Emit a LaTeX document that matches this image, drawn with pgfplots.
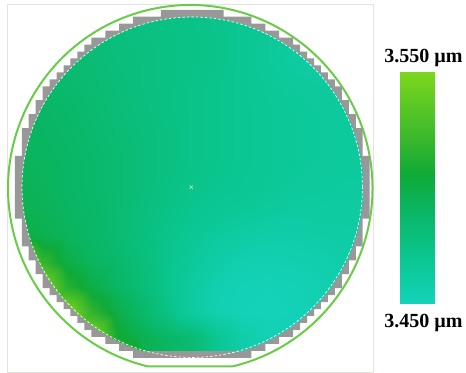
\documentclass[border=0pt]{standalone}
\usepackage{fontspec}
\setmainfont{Liberation Serif}
\usepackage{pgfplots}
\pgfplotsset{compat=1.18}
\definecolor{ring}{RGB}{104,204,72}
\definecolor{die}{RGB}{152,152,152}
\definecolor{framec}{RGB}{226,228,222}
\definecolor{cmark}{RGB}{215,235,170}
\begin{document}
\begin{tikzpicture}
\begin{axis}[width=466pt,height=376pt,scale only axis,xmin=0,xmax=466,ymin=0,ymax=376,hide axis,
 colormap={wafer}{rgb255(0cm)=(20,210,185); rgb255(2cm)=(10,198,145); rgb255(4cm)=(10,182,100); rgb255(5.6cm)=(15,170,55); rgb255(7cm)=(55,182,45); rgb255(10cm)=(125,215,30)},
 point meta min=3.45, point meta max=3.55]

\draw[framec, line width=0.8pt] (axis cs:7.5,4.5) rectangle (axis cs:373,371.5);

\draw[ring, line width=2pt] (axis cs:232.2,10) arc[start angle=-76.6, end angle=256.6, x radius=182pt, y radius=183pt] -- cycle;

% edge-exclusion dies (cell units of 6.95 pt around the wafer centre)
\addplot[fill=die, draw=none] table[row sep=\\, x expr=192+6.95*\thisrow{u}, y expr=189+6.95*\thisrow{v}] {
u v\\
-4.5 25.5\\ 4.5 25.5\\ 4.5 24.5\\ 8.5 24.5\\ 8.5 23.5\\ 10.5 23.5\\ 10.5 22.5\\ 12.5 22.5\\ 12.5 21.5\\ 14.5 21.5\\ 14.5 20.5\\ 15.5 20.5\\ 15.5 19.5\\ 16.5 19.5\\ 16.5 18.5\\ 17.5 18.5\\ 17.5 17.5\\ 18.5 17.5\\ 18.5 16.5\\ 19.5 16.5\\ 19.5 15.5\\ 20.5 15.5\\ 20.5 14.5\\ 21.5 14.5\\ 21.5 12.5\\ 22.5 12.5\\ 22.5 10.5\\ 23.5 10.5\\ 23.5 8.5\\ 24.5 8.5\\ 24.5 4.5\\ 25.5 4.5\\
25.5 -4.5\\ 24.5 -4.5\\ 24.5 -8.5\\ 23.5 -8.5\\ 23.5 -10.5\\ 22.5 -10.5\\ 22.5 -12.5\\ 21.5 -12.5\\ 21.5 -14.5\\ 20.5 -14.5\\ 20.5 -15.5\\ 19.5 -15.5\\ 19.5 -16.5\\ 18.5 -16.5\\ 18.5 -17.5\\ 17.5 -17.5\\ 17.5 -18.5\\ 16.5 -18.5\\ 16.5 -19.5\\ 15.5 -19.5\\ 15.5 -20.5\\ 14.5 -20.5\\ 14.5 -21.5\\ 12.5 -21.5\\ 12.5 -22.5\\ 10.5 -22.5\\ 10.5 -23.5\\ 8.5 -23.5\\ 8.5 -24.5\\
-8.5 -24.5\\ -8.5 -23.5\\ -10.5 -23.5\\ -10.5 -22.5\\ -12.5 -22.5\\ -12.5 -21.5\\ -14.5 -21.5\\ -14.5 -20.5\\ -15.5 -20.5\\ -15.5 -19.5\\ -16.5 -19.5\\ -16.5 -18.5\\ -17.5 -18.5\\ -17.5 -17.5\\ -18.5 -17.5\\ -18.5 -16.5\\ -19.5 -16.5\\ -19.5 -15.5\\ -20.5 -15.5\\ -20.5 -14.5\\ -21.5 -14.5\\ -21.5 -12.5\\ -22.5 -12.5\\ -22.5 -10.5\\ -23.5 -10.5\\ -23.5 -8.5\\ -24.5 -8.5\\ -24.5 -4.5\\ -25.5 -4.5\\
-25.5 4.5\\ -24.5 4.5\\ -24.5 8.5\\ -23.5 8.5\\ -23.5 10.5\\ -22.5 10.5\\ -22.5 12.5\\ -21.5 12.5\\ -21.5 14.5\\ -20.5 14.5\\ -20.5 15.5\\ -19.5 15.5\\ -19.5 16.5\\ -18.5 16.5\\ -18.5 17.5\\ -17.5 17.5\\ -17.5 18.5\\ -16.5 18.5\\ -16.5 19.5\\ -15.5 19.5\\ -15.5 20.5\\ -14.5 20.5\\ -14.5 21.5\\ -12.5 21.5\\ -12.5 22.5\\ -10.5 22.5\\ -10.5 23.5\\ -8.5 23.5\\ -8.5 24.5\\ -4.5 24.5\\ -4.5 25.5\\
};

% thickness map
\begin{scope}
\clip (axis cs:192,189) circle[radius=170.5pt];
\addplot[surf, shader=interp, mesh/cols=15, point meta=explicit] table[row sep=\\, x=x, y=y, meta=v] {
x y v\\
17 364 3.485\\ 42 364 3.484\\ 67 364 3.482\\ 92 364 3.480\\ 117 364 3.478\\ 142 364 3.476\\ 167 364 3.475\\ 192 364 3.474\\ 217 364 3.472\\ 242 364 3.470\\ 267 364 3.468\\ 292 364 3.465\\ 317 364 3.462\\ 342 364 3.460\\ 367 364 3.460\\
17 339 3.486\\ 42 339 3.485\\ 67 339 3.483\\ 92 339 3.481\\ 117 339 3.479\\ 142 339 3.477\\ 167 339 3.476\\ 192 339 3.475\\ 217 339 3.473\\ 242 339 3.470\\ 267 339 3.466\\ 292 339 3.463\\ 317 339 3.460\\ 342 339 3.458\\ 367 339 3.458\\
17 314 3.487\\ 42 314 3.486\\ 67 314 3.485\\ 92 314 3.483\\ 117 314 3.480\\ 142 314 3.478\\ 167 314 3.476\\ 192 314 3.475\\ 217 314 3.473\\ 242 314 3.470\\ 267 314 3.466\\ 292 314 3.462\\ 317 314 3.460\\ 342 314 3.458\\ 367 314 3.458\\
17 289 3.489\\ 42 289 3.488\\ 67 289 3.486\\ 92 289 3.484\\ 117 289 3.481\\ 142 289 3.478\\ 167 289 3.476\\ 192 289 3.474\\ 217 289 3.472\\ 242 289 3.470\\ 267 289 3.467\\ 292 289 3.465\\ 317 289 3.464\\ 342 289 3.463\\ 367 289 3.463\\
17 264 3.491\\ 42 264 3.490\\ 67 264 3.488\\ 92 264 3.485\\ 117 264 3.482\\ 142 264 3.479\\ 167 264 3.476\\ 192 264 3.474\\ 217 264 3.472\\ 242 264 3.470\\ 267 264 3.468\\ 292 264 3.466\\ 317 264 3.465\\ 342 264 3.464\\ 367 264 3.464\\
17 239 3.493\\ 42 239 3.491\\ 67 239 3.489\\ 92 239 3.486\\ 117 239 3.483\\ 142 239 3.480\\ 167 239 3.477\\ 192 239 3.474\\ 217 239 3.472\\ 242 239 3.470\\ 267 239 3.468\\ 292 239 3.466\\ 317 239 3.465\\ 342 239 3.464\\ 367 239 3.464\\
17 214 3.494\\ 42 214 3.492\\ 67 214 3.490\\ 92 214 3.487\\ 117 214 3.484\\ 142 214 3.480\\ 167 214 3.477\\ 192 214 3.474\\ 217 214 3.472\\ 242 214 3.470\\ 267 214 3.468\\ 292 214 3.466\\ 317 214 3.465\\ 342 214 3.464\\ 367 214 3.464\\
17 189 3.495\\ 42 189 3.493\\ 67 189 3.490\\ 92 189 3.487\\ 117 189 3.484\\ 142 189 3.480\\ 167 189 3.476\\ 192 189 3.473\\ 217 189 3.471\\ 242 189 3.469\\ 267 189 3.467\\ 292 189 3.465\\ 317 189 3.464\\ 342 189 3.463\\ 367 189 3.463\\
17 164 3.497\\ 42 164 3.495\\ 67 164 3.491\\ 92 164 3.488\\ 117 164 3.484\\ 142 164 3.479\\ 167 164 3.475\\ 192 164 3.471\\ 217 164 3.468\\ 242 164 3.466\\ 267 164 3.464\\ 292 164 3.462\\ 317 164 3.462\\ 342 164 3.462\\ 367 164 3.462\\
17 139 3.502\\ 42 139 3.498\\ 67 139 3.493\\ 92 139 3.489\\ 117 139 3.484\\ 142 139 3.478\\ 167 139 3.473\\ 192 139 3.468\\ 217 139 3.463\\ 242 139 3.460\\ 267 139 3.458\\ 292 139 3.458\\ 317 139 3.459\\ 342 139 3.460\\ 367 139 3.460\\
17 114 3.550\\ 42 114 3.520\\ 67 114 3.500\\ 92 114 3.492\\ 117 114 3.487\\ 142 114 3.480\\ 167 114 3.472\\ 192 114 3.465\\ 217 114 3.459\\ 242 114 3.455\\ 267 114 3.454\\ 292 114 3.455\\ 317 114 3.456\\ 342 114 3.458\\ 367 114 3.458\\
17 89 3.550\\ 42 89 3.550\\ 67 89 3.515\\ 92 89 3.500\\ 117 89 3.490\\ 142 89 3.482\\ 167 89 3.472\\ 192 89 3.462\\ 217 89 3.455\\ 242 89 3.452\\ 267 89 3.451\\ 292 89 3.452\\ 317 89 3.454\\ 342 89 3.456\\ 367 89 3.456\\
17 64 3.550\\ 42 64 3.550\\ 67 64 3.550\\ 92 64 3.518\\ 117 64 3.500\\ 142 64 3.488\\ 167 64 3.475\\ 192 64 3.462\\ 217 64 3.454\\ 242 64 3.451\\ 267 64 3.450\\ 292 64 3.451\\ 317 64 3.453\\ 342 64 3.454\\ 367 64 3.455\\
17 39 3.550\\ 42 39 3.550\\ 67 39 3.550\\ 92 39 3.550\\ 117 39 3.508\\ 142 39 3.497\\ 167 39 3.490\\ 192 39 3.484\\ 217 39 3.470\\ 242 39 3.458\\ 267 39 3.453\\ 292 39 3.452\\ 317 39 3.453\\ 342 39 3.454\\ 367 39 3.455\\
17 14 3.550\\ 42 14 3.550\\ 67 14 3.550\\ 92 14 3.550\\ 117 14 3.530\\ 142 14 3.500\\ 167 14 3.490\\ 192 14 3.485\\ 217 14 3.470\\ 242 14 3.460\\ 267 14 3.455\\ 292 14 3.453\\ 317 14 3.454\\ 342 14 3.455\\ 367 14 3.456\\
};
\end{scope}

\fill[die] (axis cs:132.9,18.7) rectangle (axis cs:251.1,25.7);
\draw[white, line width=0.7pt, dash pattern=on 2.5pt off 2pt] (axis cs:192,189) circle[radius=170pt];

\addplot[only marks, mark=x, mark size=2.5pt, color=cmark, line width=0.5pt] coordinates {(191,189)};

% colour scale
\addplot[surf, shader=interp, mesh/cols=2, point meta=explicit] table[row sep=\\, x=x, y=y, meta=v] {
x y v\\
400 73 3.45\\ 434 73 3.45\\
400 188.5 3.50\\ 434 188.5 3.50\\
400 304 3.55\\ 434 304 3.55\\
};

\node[anchor=base, font=\fontsize{20}{24}\selectfont\bfseries] at (axis cs:423,314) {3.550 µm};
\node[anchor=base, font=\fontsize{20}{24}\selectfont\bfseries] at (axis cs:423,49) {3.450 µm};
\end{axis}
\end{tikzpicture}
\end{document}
